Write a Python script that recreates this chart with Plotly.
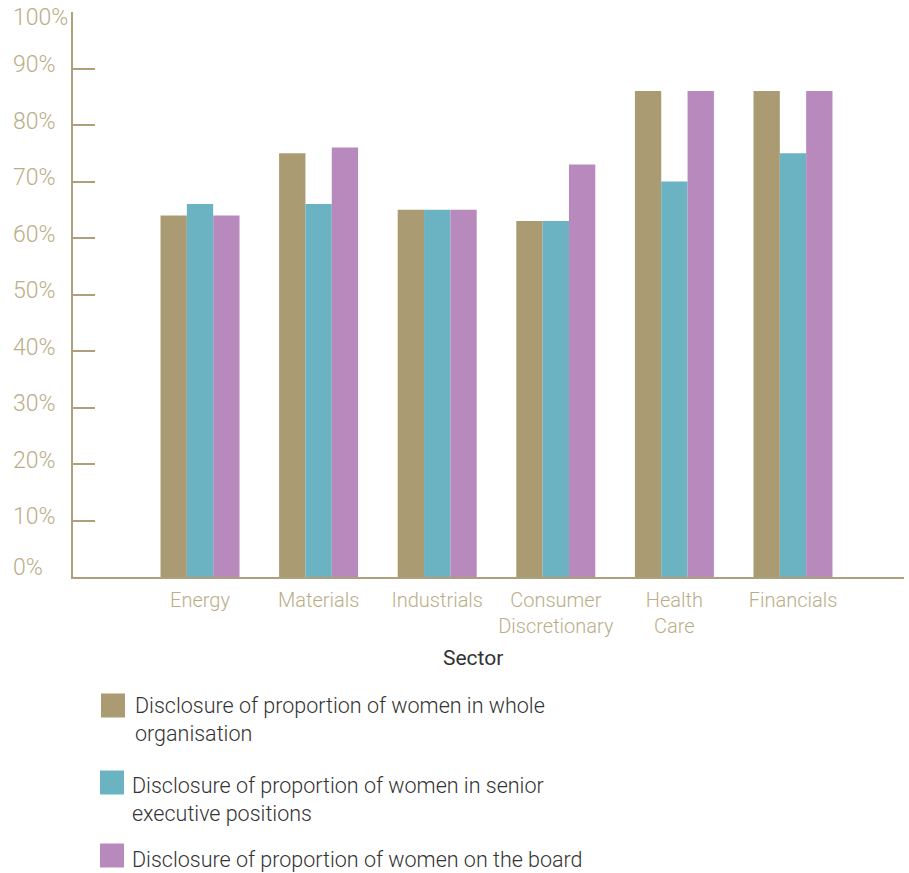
import plotly.graph_objects as go

# Sector categories and disclosure rates (%)
sectors = ["Energy", "Materials", "Industrials", "Consumer Discretionary", "Health Care", "Financials"]
sector_ticktext = ["Energy", "Materials", "Industrials", "Consumer<br>Discretionary", "Health<br>Care", "Financials"]
whole_org = [64, 75, 65, 63, 86, 86]
senior_exec = [66, 66, 65, 63, 70, 75]
board = [64, 76, 65, 73, 86, 86]

series_names = [
    "Disclosure of proportion of women in whole<br>organisation",
    "Disclosure of proportion of women in senior<br>executive positions",
    "Disclosure of proportion of women on the board",
]
series_colors = ["#AA9B72", "#6BB2C2", "#B889BC"]
y_tick_vals = [0, 10, 20, 30, 40, 50, 60, 70, 80, 90, 100]
y_tick_text = [f"{v}%" for v in y_tick_vals]

W, H = 909, 873
ML, MR, MT, MB = 73, 5, 12, 296
PW, PH = W - ML - MR, H - MT - MB

AXIS = "#ADA07A"
LABEL = "#B9AE88"
DARK = "#333333"
FONT = "Roboto"


def px_x(px):
    return (px - ML) / PW


def px_y(py):
    return (H - MB - py) / PH


fig = go.Figure()
for name, vals, col in zip(series_names, [whole_org, senior_exec, board], series_colors):
    fig.add_trace(go.Bar(x=sectors, y=vals, name=name, marker=dict(color=col, line=dict(width=0)),
                         showlegend=False))

fig.update_layout(
    width=W, height=H,
    margin=dict(l=ML, r=MR, t=MT, b=MB, autoexpand=False),
    paper_bgcolor="white", plot_bgcolor="white",
    barmode="group", bargap=0.334, bargroupgap=0,
    font=dict(family=FONT, color=DARK),
)

fig.update_xaxes(
    type="category",
    tickmode="array", tickvals=sectors, ticktext=sector_ticktext,
    range=[-1.071, 5.936],
    showline=True, linecolor=AXIS, linewidth=2,
    ticks="", showgrid=False, zeroline=False,
    ticklabelstandoff=4,
    tickfont=dict(family=FONT, size=20, color=LABEL, weight=300),
)

fig.update_yaxes(
    range=[0, 100],
    tickmode="array", tickvals=y_tick_vals,
    showticklabels=False,
    ticks="inside", ticklen=22, tickwidth=2, tickcolor=AXIS,
    showline=True, linecolor=AXIS, linewidth=2,
    showgrid=False, zeroline=False,
)

annotations = []
# Left-aligned percentage labels on the value axis
label_shift = {0: 10, 100: -5}
for v, t in zip(y_tick_vals, y_tick_text):
    annotations.append(dict(
        x=px_x(11), xref="paper", xanchor="left",
        y=v, yref="y", yanchor="middle", yshift=label_shift.get(v, 4),
        text=t, showarrow=False,
        font=dict(family=FONT, size=23, color=LABEL, weight=300),
    ))

# Axis title for the sectors
annotations.append(dict(
    x=px_x(473), xref="paper", xanchor="center",
    y=px_y(658), yref="paper", yanchor="middle",
    text="Sector", showarrow=False,
    font=dict(family=FONT, size=21, color=DARK, weight=400),
))

# Legend: swatches with wrapped descriptions
legend_rows = [
    (101, 705.5, 135, 706),
    (100, 782.5, 132, 786),
    (100, 855.5, 132, 860),
]
shapes = []
for (sx, sy, tx, ty), name, col in zip(legend_rows, series_names, series_colors):
    shapes.append(dict(
        type="rect", xref="paper", yref="paper",
        x0=px_x(sx), x1=px_x(sx + 24), y0=px_y(sy + 12), y1=px_y(sy - 12),
        fillcolor=col, line=dict(width=0),
    ))
    annotations.append(dict(
        x=px_x(tx - 2), xref="paper", xanchor="left",
        y=px_y(ty - 15), yref="paper", yanchor="top",
        text=name, showarrow=False, align="left",
        font=dict(family=FONT, size=21.5, color=DARK, weight=300),
    ))

fig.update_layout(annotations=annotations, shapes=shapes)

fig.write_html("out.html")
